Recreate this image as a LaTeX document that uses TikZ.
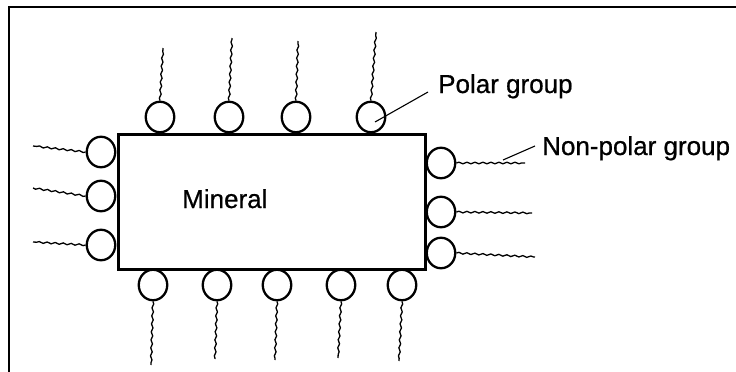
\documentclass[tikz,border=0pt]{standalone}
\usepackage{fontspec}
\setmainfont{Liberation Sans}
\newfontfamily\lblfont{Liberation Sans}[BoldFont=Liberation Sans,BoldFeatures={FakeBold=0.7}]
\usetikzlibrary{shapes.geometric,decorations.pathmorphing}
\begin{document}
\begin{tikzpicture}[x=1pt,y=-1pt,
  head/.style={ellipse,draw,line width=2.3pt,minimum width=28.5pt,minimum height=30.5pt,inner sep=0pt},
  tail/.style={line width=1.3pt,decorate,decoration={snake,amplitude=0.8pt,segment length=8pt}},
  lbl/.style={anchor=base west,inner sep=0pt,font=\lblfont\bfseries\fontsize{26}{30}\selectfont},
  leader/.style={line width=1.1pt},
  frame/.style={line width=2.2pt}]
\useasboundingbox (0,0) rectangle (736,372);
% frame
\coordinate (f1) at (9,373);
\coordinate (f2) at (9,7);
\coordinate (f3) at (737,7);
\draw[frame] (f1) -- (f2) -- (f3);
% mineral block
\node[draw,line width=2.6pt,minimum width=307pt,minimum height=135pt,inner sep=0pt,anchor=north west] (block) at (117,133) {};
\node[lbl] (mineral) at (182,208) {Mineral};
% top heads
\node[head] (t1) at (160,117) {};
\node[head] (t2) at (229,117) {};
\node[head] (t3) at (296,117) {};
\node[head] (t4) at (371,117) {};
\coordinate (t1e) at (163,48);
\coordinate (t2e) at (232,38);
\coordinate (t3e) at (298,41);
\coordinate (t4e) at (376,32);
\foreach \i in {1,2,3,4} \draw[tail] (t\i.north) -- (t\i e);
% bottom heads
\node[head] (b1) at (153,285) {};
\node[head] (b2) at (217,285) {};
\node[head] (b3) at (277,285) {};
\node[head] (b4) at (341,285) {};
\node[head] (b5) at (402,285) {};
\coordinate (b1e) at (151,365);
\coordinate (b2e) at (215,359);
\coordinate (b3e) at (275,360);
\coordinate (b4e) at (338,358);
\coordinate (b5e) at (399,361);
\foreach \i in {1,2,3,4,5} \draw[tail] (b\i.south) -- (b\i e);
% left heads
\node[head] (l1) at (101,152) {};
\node[head] (l2) at (101,196) {};
\node[head] (l3) at (101,245) {};
\coordinate (l1e) at (33,146);
\coordinate (l2e) at (33,188);
\coordinate (l3e) at (33,242);
\foreach \i in {1,2,3} \draw[tail] (l\i.west) -- (l\i e);
% right heads
\node[head] (r1) at (441,163) {};
\node[head] (r2) at (441,212) {};
\node[head] (r3) at (441,253) {};
\coordinate (r1e) at (525,163);
\coordinate (r2e) at (532,213);
\coordinate (r3e) at (535,257);
\foreach \i in {1,2,3} \draw[tail] (r\i.east) -- (r\i e);
% labels
\node[lbl] (pg) at (438,93) {Polar group};
\node[lbl] (npg) at (542,155) {Non-polar group};
\coordinate (pl) at (375,122);
\coordinate (npl) at (503,160);
\draw[leader] (pl) -- ([xshift=-10pt,yshift=1pt]pg.base west);
\draw[leader] (npl) -- ([xshift=-7pt,yshift=9pt]npg.base west);
\end{tikzpicture}
\end{document}
